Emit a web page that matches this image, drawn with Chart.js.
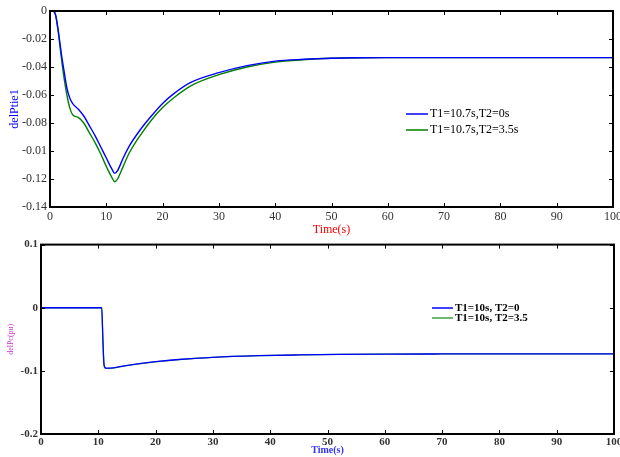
<!DOCTYPE html>
<html>
<head>
<meta charset="utf-8">
<style>
body {
	margin: 0;
	background: #fff;
}

#c1 {
	position: absolute;
	left: 0;
	top: 0;
}

#c2 {
	position: absolute;
	left: 0;
	top: 235px;
}
</style>
<title>delPtie / delPc</title>
<script src="https://cdn.jsdelivr.net/npm/chart.js@4.4.1/dist/chart.umd.min.js"></script>
</head>
<body>
	<canvas id="c1" width="620" height="240"></canvas>
	<canvas id="c2" width="620" height="222"></canvas>

	<script>
		// top chart: delPtie1
		var t1 = [0, 0.5, 1, 1.5, 2, 2.5, 3, 3.5, 4, 5, 6, 7, 8, 9, 10, 11, 11.5, 12, 13, 14, 16, 18, 20, 22, 25, 30, 35, 40, 45, 50, 55, 60, 70, 80, 90, 100];
		var tieBlue = [0, 0, -0.003, -0.015, -0.030, -0.043, -0.055, -0.062, -0.066, -0.070, -0.075, -0.082, -0.089, -0.097, -0.105, -0.113, -0.116, -0.114, -0.105, -0.097, -0.085, -0.075, -0.066, -0.059, -0.051, -0.044, -0.039, -0.0358, -0.0345, -0.0337, -0.0334, -0.0333, -0.0333, -0.0333, -0.0333, -0.0333];
		var tieGreen = [0, 0, -0.003, -0.016, -0.033, -0.048, -0.060, -0.069, -0.074, -0.076, -0.080, -0.087, -0.094, -0.102, -0.111, -0.119, -0.122, -0.120, -0.111, -0.102, -0.089, -0.078, -0.069, -0.062, -0.0535, -0.0455, -0.040, -0.0365, -0.0348, -0.0338, -0.0334, -0.0333, -0.0333, -0.0333, -0.0333, -0.0333];
		var tieLabels = ["T1=10.7s,T2=0s", "T1=10.7s,T2=3.5s"];
		var tieTicks = ["0", "-0.02", "-0.04", "-0.06", "-0.08", "-0.01", "-0.12", "-0.14"];

		// bottom chart: delPc
		var t2 = [0, 10.6, 10.8, 11, 11.3, 12, 14, 16, 20, 24, 30, 38, 45, 52, 60, 70, 80, 90, 100];
		var pcBlue = [0, 0, -0.05, -0.09, -0.0955, -0.0958, -0.093, -0.090, -0.0855, -0.082, -0.0785, -0.076, -0.0748, -0.074, -0.0735, -0.0732, -0.073, -0.073, -0.073];
		var pcGreen = [0, 0, -0.052, -0.091, -0.0962, -0.0962, -0.0932, -0.0902, -0.0856, -0.0821, -0.0786, -0.076, -0.0748, -0.074, -0.0735, -0.0732, -0.073, -0.073, -0.073];
		var pcLabels = ["T1=10s, T2=0", "T1=10s, T2=3.5"];
		var pcTicks = ["0.1", "0", "-0.1", "-0.2"];

		function pts(xs, ys) {
			var out = [];
			for (var i = 0; i < xs.length; i++) {
				out.push({ x : xs[i], y : ys[i] });
			}
			return out;
		}

		// let the "100" label run off the edge like the original
		function fitX(h) {
			return function(s) {
				s.height = h;
				s.paddingLeft = 0;
				s.paddingRight = 0;
			};
		}

		var boxPlugin = {
			id : "boxLegend",
			afterDraw : function(chart, args, opts) {
				var ctx = chart.ctx;
				var a = chart.chartArea;
				var xs = chart.scales.x;
				var ys = chart.scales.y;
				ctx.save();
				ctx.strokeStyle = "#000";
				ctx.lineWidth = opts.lw;
				ctx.strokeRect(a.left, a.top, a.right - a.left, a.bottom - a.top);
				ctx.lineWidth = 1;
				ctx.beginPath();
				xs.ticks.forEach(function(tk) {
					var p = Math.round(xs.getPixelForValue(tk.value)) + 0.5;
					ctx.moveTo(p, a.bottom);
					ctx.lineTo(p, a.bottom - 4);
					ctx.moveTo(p, a.top);
					ctx.lineTo(p, a.top + 4);
				});
				ys.ticks.forEach(function(tk) {
					var p = Math.round(ys.getPixelForValue(tk.value)) + 0.5;
					ctx.moveTo(a.left, p);
					ctx.lineTo(a.left + 4, p);
					ctx.moveTo(a.right, p);
					ctx.lineTo(a.right - 4, p);
				});
				ctx.stroke();

				// legend
				ctx.font = opts.font;
				ctx.textBaseline = "middle";
				ctx.fillStyle = "#000";
				chart.data.datasets.forEach(function(ds, i) {
					var y = opts.y + i * opts.dy;
					ctx.strokeStyle = ds.borderColor;
					ctx.lineWidth = 1.5;
					ctx.beginPath();
					ctx.moveTo(opts.x, y);
					ctx.lineTo(opts.x + opts.len, y);
					ctx.stroke();
					ctx.fillText(ds.label, opts.x + opts.len + 2, y);
				});
				ctx.restore();
			}
		};

		new Chart(document.getElementById("c1"), {
			type : "line",
			data : {
				datasets : [ {
					label : tieLabels[0],
					data : pts(t1, tieBlue),
					borderColor : "#0000ff",
					borderWidth : 1.4,
					pointRadius : 0,
					cubicInterpolationMode : "monotone",
					fill : false
				}, {
					label : tieLabels[1],
					data : pts(t1, tieGreen),
					borderColor : "#008000",
					borderWidth : 1.4,
					pointRadius : 0,
					cubicInterpolationMode : "monotone",
					fill : false
				} ]
			},
			options : {
				responsive : false,
				animation : false,
				layout : { padding : { top : 11, right : 7 } },
				plugins : {
					legend : { display : false },
					tooltip : { enabled : false },
					boxLegend : { lw : 2, x : 406, y : 114, dy : 16, len : 22, font : "12px 'Liberation Serif'" }
				},
				scales : {
					x : {
						type : "linear",
						min : 0,
						max : 100,
						afterFit : fitX(33),
						grid : { display : false, drawTicks : false },
						border : { display : false },
						ticks : {
							stepSize : 10,
							padding : 3,
							maxRotation : 0,
							color : "#333",
							font : { family : "Liberation Serif", size : 12 }
						},
						title : {
							display : true,
							text : "Time(s)",
							color : "#ff0000",
							padding : 3,
							font : { family : "Liberation Serif", size : 12 }
						}
					},
					y : {
						min : -0.14,
						max : 0,
						afterFit : function(s) { s.width = 50; },
						grid : { display : false, drawTicks : false },
						border : { display : false },
						ticks : {
							stepSize : 0.02,
							padding : 3,
							color : "#333",
							font : { family : "Liberation Serif", size : 12 },
							callback : function(v) {
								return tieTicks[Math.round(-v / 0.02)];
							}
						},
						title : {
							display : true,
							text : "delPtie1",
							color : "#0000ff",
							padding : 8,
							font : { family : "Liberation Serif", size : 12 }
						}
					}
				}
			},
			plugins : [ boxPlugin ]
		});

		new Chart(document.getElementById("c2"), {
			type : "line",
			data : {
				datasets : [ {
					label : pcLabels[0],
					data : pts(t2, pcBlue),
					borderColor : "#0000ff",
					borderWidth : 1.3,
					pointRadius : 0,
					cubicInterpolationMode : "monotone",
					fill : false
				}, {
					label : pcLabels[1],
					data : pts(t2, pcGreen),
					borderColor : "rgba(0,128,0,0.75)",
					borderWidth : 1.3,
					pointRadius : 0,
					cubicInterpolationMode : "monotone",
					fill : false
				} ]
			},
			options : {
				responsive : false,
				animation : false,
				layout : { padding : { top : 7, right : 6 } },
				plugins : {
					legend : { display : false },
					tooltip : { enabled : false },
					boxLegend : { lw : 2, x : 432, y : 73, dy : 10, len : 21, font : "bold 11px 'Liberation Serif'" }
				},
				scales : {
					x : {
						type : "linear",
						min : 0,
						max : 100,
						afterFit : fitX(23),
						grid : { display : false, drawTicks : false },
						border : { display : false },
						ticks : {
							stepSize : 10,
							padding : 2,
							maxRotation : 0,
							color : "#333",
							font : { family : "Liberation Serif", size : 11, weight : "bold" }
						},
						title : {
							display : true,
							text : "Time(s)",
							color : "#3333ff",
							padding : 1,
							font : { family : "Liberation Serif", size : 10, weight : "bold" }
						}
					},
					y : {
						min : -0.2,
						max : 0.1,
						afterFit : function(s) { s.width = 41; },
						grid : { display : false, drawTicks : false },
						border : { display : false },
						ticks : {
							stepSize : 0.1,
							padding : 3,
							color : "#333",
							font : { family : "Liberation Serif", size : 11, weight : "bold" },
							callback : function(v) {
								return pcTicks[Math.round((0.1 - v) / 0.1)];
							}
						},
						title : {
							display : true,
							text : "delPc(pu)",
							color : "#cc33cc",
							padding : 6,
							font : { family : "Liberation Serif", size : 8 }
						}
					}
				}
			},
			plugins : [ boxPlugin ]
		});
	</script>
</body>
</html>
